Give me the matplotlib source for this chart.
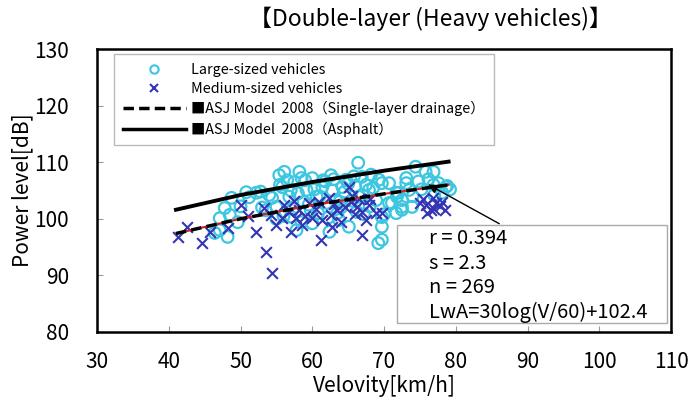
import numpy as np
import matplotlib.pyplot as plt
from matplotlib.patches import Rectangle
from matplotlib.lines import Line2D

plt.rcParams['font.family'] = ['Noto Sans CJK JP', 'DejaVu Sans']

# Datos (estimativas)
large_v = [46.4, 47.1, 47.1, 47.8, 48.2, 48.5, 48.75, 49.6, 50.8, 52.2,
           54.4, 55.0, 55.4, 55.8, 56.1, 56.8, 57.8, 58.2, 58.5, 58.5,
           59.2, 60.6, 61.4, 62.4, 62.6, 63.3, 63.75, 64.2, 64.7, 65.1,
           66.4, 66.5, 66.9, 67.9, 68.9, 69.2, 69.3, 69.7, 69.7, 70.7,
           71.7, 71.7, 72.5, 72.5, 73.1, 73.5, 73.9, 74.4, 75.8, 76.9,
           77.6, 70.7, 71.1, 69.7, 69.7, 72.5, 73.1, 76.9, 78.6, 78.1,
           71.8, 50.0, 51.2, 52.8, 53.5, 54.0, 55.5, 56.5, 57.0, 57.5,
           58.0, 59.0, 59.5, 60.0, 60.3, 61.0, 61.8, 62.0, 62.8, 63.0,
           63.8, 64.5, 65.0, 65.5, 66.0, 67.0, 67.5, 68.0, 68.5, 57.3,
           59.8, 61.5, 64.0, 66.2, 56.0, 58.8, 60.8, 62.2, 65.8, 67.2,
           53.0, 55.0, 57.0, 60.0, 63.5, 68.2, 70.0, 74.0, 75.2, 77.0,
           78.8, 79.2, 72.0, 74.8, 76.2]
large_lw = [97.5, 98.0, 100.1, 101.9, 96.8, 100.7, 103.7, 99.4, 104.7, 104.6,
            103.7, 102.1, 107.7, 105.6, 108.3, 103.9, 98.0, 108.3, 107.2, 99.4,
            105.1, 103.9, 105.6, 97.7, 107.7, 103.3, 99.8, 105.6, 106.9, 98.6,
            109.9, 103.9, 107.4, 105.1, 103.3, 95.7, 106.9, 106.3, 98.6, 102.8,
            104.6, 101.0, 103.3, 101.6, 107.2, 105.1, 102.1, 109.2, 108.3, 108.3,
            106.3, 106.3, 102.8, 100.3, 96.3, 102.1, 106.3, 106.0, 105.6, 104.6,
            103.9, 102.2, 103.8, 104.8, 101.5, 104.2, 106.0, 106.8, 105.0, 106.5,
            104.5, 106.8, 102.5, 107.2, 105.2, 104.0, 106.6, 102.8, 105.0, 107.0,
            103.0, 104.8, 106.2, 103.2, 105.8, 104.2, 106.0, 102.2, 105.5, 101.8,
            101.5, 106.8, 102.0, 101.2, 100.5, 103.0, 101.0, 100.2, 107.5, 100.8,
            102.0, 100.0, 100.4, 99.2, 101.0, 107.8, 100.8, 104.0, 105.2, 104.2,
            105.8, 105.2, 104.6, 106.6, 107.0]

medium_v = [41.25, 42.6, 44.7, 45.7, 48.3, 50.1, 52.1, 53.3, 53.6, 54.4,
            55.0, 54.3, 56.8, 57.1, 57.8, 58.5, 60.0, 61.25, 61.4, 62.4,
            62.6, 62.8, 65.1, 65.4, 66.25, 66.9, 67.9, 68.9, 69.7, 75.8,
            76.5, 77.2, 78.1, 56.0, 57.5, 58.2, 59.0, 59.5, 60.5, 61.0,
            63.5, 64.0, 64.5, 65.5, 66.0, 66.5, 67.0, 67.5, 68.0, 75.5,
            76.0, 77.0, 77.8, 78.5, 76.8, 75.0, 51.0, 55.8, 63.0]
medium_lw = [96.8, 98.6, 95.7, 97.7, 98.4, 102.4, 97.7, 101.9, 94.1, 90.4,
             98.9, 100.7, 101.2, 97.7, 100.1, 98.9, 100.1, 96.3, 99.8, 103.7,
             100.7, 98.6, 105.6, 103.0, 102.1, 97.1, 102.4, 101.0, 101.0, 102.4,
             101.6, 102.8, 103.0, 102.5, 103.2, 101.5, 100.5, 102.8, 101.8, 103.0,
             101.5, 99.5, 102.0, 104.0, 100.8, 103.5, 101.2, 99.8, 103.5, 103.5,
             101.0, 101.8, 102.2, 101.5, 103.6, 102.8, 100.5, 100.2, 102.6]

# Modelo ASJ 2008
model_v = [41, 50, 60, 70, 79]
asphalt_lw = [101.6, 104.2, 106.5, 108.5, 110.1]
drainage_lw = [97.4, 100.0, 102.4, 104.4, 106.0]

stats_lines = ["r = 0.394", "s = 2.3", "n = 269", "LwA=30log(V/60)+102.4"]

cyan = '#3cc6e0'
blue = '#3434b4'

fig = plt.figure(figsize=(6.94, 4.03), dpi=100)
ax = fig.add_axes([0.1398, 0.1762, 0.8271, 0.7022])

ax.scatter(large_v, large_lw, s=70, facecolors='none', edgecolors=cyan,
           linewidths=1.6, zorder=2)
ax.scatter(medium_v, medium_lw, s=60, marker='x', color=blue,
           linewidths=1.5, zorder=3)

ax.plot(model_v, drainage_lw, color='#d02020', lw=1.5, zorder=4)
ax.plot(model_v, drainage_lw, color='black', lw=2.5, ls=(0, (3, 1.5)), zorder=5)
ax.plot(model_v, asphalt_lw, color='black', lw=2.8, zorder=5)

ax.set_xlim(30, 110)
ax.set_ylim(80, 130)
ax.set_xticks(range(30, 111, 10))
ax.set_yticks(range(80, 131, 10))
ax.tick_params(direction='in', length=4, color='#999999', labelsize=15,
               pad=14)
ax.tick_params(axis='y', pad=20)
for sp in ax.spines.values():
    sp.set_linewidth(1.8)

ax.set_xlabel('Velovity[km/h]', fontsize=15, labelpad=1)
ax.set_ylabel('Power level[dB]', fontsize=15, labelpad=1)
fig.text(0.62, 0.953, '【Double-layer (Heavy vehicles)】', fontsize=16.5,
         ha='center', va='center')

# Legenda
handles = [
    Line2D([], [], ls='none', marker='o', mfc='none', mec=cyan, ms=6, mew=1.5),
    Line2D([], [], ls='none', marker='x', color=blue, ms=6, mew=1.5),
    Line2D([], [], color='black', lw=2.5, ls=(0, (3, 1.5))),
    Line2D([], [], color='black', lw=2.5),
]
labels = ['Large-sized vehicles', 'Medium-sized vehicles',
          '■ASJ Model  2008（Single-layer drainage）',
          '■ASJ Model  2008（Asphalt）']
leg = ax.legend(handles, labels, loc='upper left',
                bbox_to_anchor=(0.03, 0.982), fontsize=10.3, frameon=True,
                fancybox=False, edgecolor='#aaaaaa', handlelength=4.4,
                handletextpad=0.4, labelspacing=0.36, borderpad=0.6,
                borderaxespad=0)
leg.get_frame().set_linewidth(1.0)

# Caixa de estatísticas com seta
ax.annotate('', xy=(75.8, 106.3), xytext=(86.4, 98.9),
            arrowprops=dict(arrowstyle='-|>', color='black', lw=1.0,
                            mutation_scale=14), zorder=6)
ax.add_patch(Rectangle((0.523, 0.032), 0.47, 0.345, transform=ax.transAxes,
                       facecolor='white', edgecolor='#aaaaaa', lw=1.0,
                       zorder=7))
for i, line in enumerate(stats_lines):
    ax.text(0.578, 0.33 - i * 0.087, line, transform=ax.transAxes,
            fontsize=14.5, va='center', ha='left', zorder=8)

fig.savefig('out.png', dpi=100)
